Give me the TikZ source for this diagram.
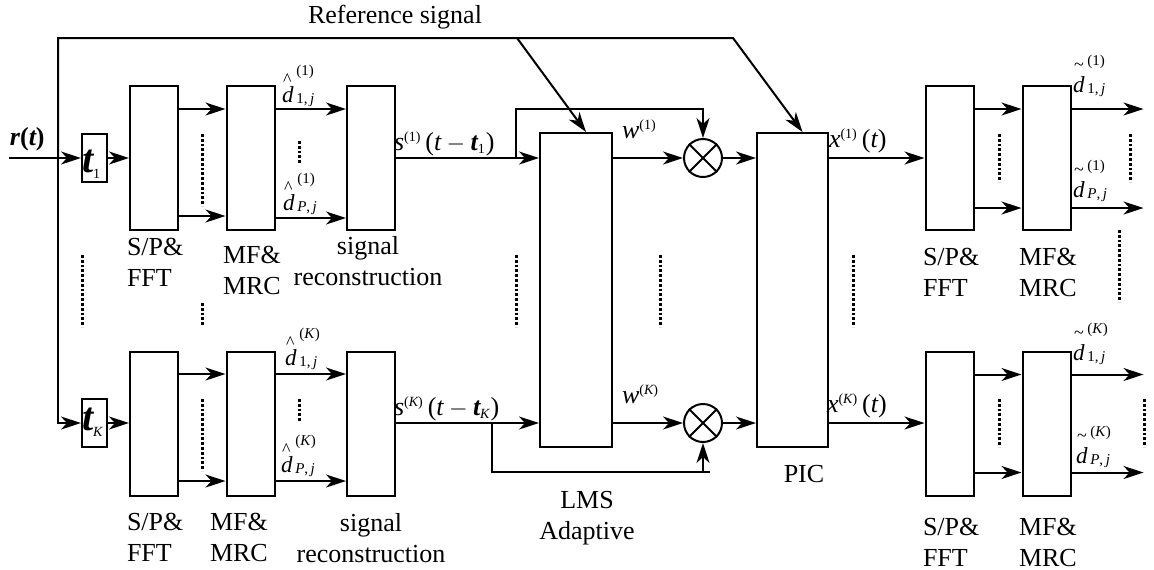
\documentclass[tikz,border=0pt]{standalone}
\usepackage{fontspec}
\setmainfont{Liberation Serif}
\usepackage{amsmath}
\usetikzlibrary{arrows.meta,calc}

\newcommand{\vi}[1]{\text{\itshape #1}}
\newcommand{\vb}[1]{\text{\bfseries\itshape #1}}
\newcommand{\sm}[1]{\text{\fontsize{7}{8}\selectfont #1}}
% symbol d with accent above, user index raised high and subcarrier index below
\newcommand{\dlab}[4]{%
  \rlap{\raisebox{#4}{\hspace{0.05em}\fontsize{9}{9}\selectfont #1}}%
  \textit{d}\hspace{0.12em}%
  \rlap{\raisebox{1.15em}{\fontsize{7.5}{8}\selectfont (#2)}}%
  \raisebox{-0.05em}{\fontsize{7.5}{8}\selectfont #3,\,\textit{j}}}

\tikzset{
  blk/.style={draw, line width=1pt, minimum width=24pt, minimum height=72pt, inner sep=0pt},
  dly/.style={blk, minimum width=12.5pt, minimum height=24pt},
  tall/.style={blk, minimum width=36pt, minimum height=157pt},
  mult/.style={draw, circle, line width=1pt, minimum size=19pt, inner sep=0pt},
  dots/.style={line width=1.5pt, dash pattern=on 1.4pt off 1pt},
  lab/.style={inner sep=0pt, align=left, anchor=north west},
  mlab/.style={inner sep=0pt, anchor=base west, font=\rmfamily\fontsize{11.5}{13}\selectfont},
}

\begin{document}
\begin{tikzpicture}[x=0.5pt,y=-0.5pt, line width=1pt,
  font=\rmfamily\fontsize{13}{15.5}\selectfont,
  >={Stealth[length=10pt,width=6.5pt,inset=3pt]}]
\useasboundingbox (0,0) rectangle (1154,569);

% user 1
\node[dly] (tA) at (94.5,158) {};
\node[blk] (spA) at (154,158) {};
\node[blk] (mfA) at (250.5,158) {};
\node[blk] (srA) at (371,158) {};
% user K
\node[dly] (tB) at (94.5,423) {};
\node[blk] (spB) at (154,424) {};
\node[blk] (mfB) at (250.5,424) {};
\node[blk] (srB) at (371,424) {};
% LMS and PIC
\node[tall] (lms) at (576,290) {};
\node[tall, minimum width=35.5pt] (pic) at (792.5,290) {};
\node[mult] (mulA) at (703,158) {};
\node[mult] (mulB) at (703,423) {};
\draw (mulA.north west) -- (mulA.south east) (mulA.north east) -- (mulA.south west);
\draw (mulB.north west) -- (mulB.south east) (mulB.north east) -- (mulB.south west);
% second stage
\node[blk] (spC) at (949.5,158) {};
\node[blk] (mfC) at (1046.5,158) {};
\node[blk] (spD) at (949.5,423.5) {};
\node[blk] (mfD) at (1046.5,423.5) {};

% input and reference signal
\coordinate (rin) at (9,158);
\coordinate (jn) at (58,158);
\coordinate (tr) at (733,38);
\coordinate (tm) at (517,38);
\draw[->] (rin) -- (tA);
\draw[->] (jn) |- (tr) -- ($(pic.north)+(10,0)$);
\draw[->] (tm) -- ($(lms.north)+(10,0)$);
\draw[->] (jn) |- (tB);

% row 1
\draw[->] (tA) -- (spA);
\draw[->] ($(spA.north east)+(0,24)$) -- ($(mfA.north west)+(0,24)$);
\draw[->] ($(spA.south east)+(0,-15)$) -- ($(mfA.south west)+(0,-15)$);
\draw[->] ($(mfA.north east)+(0,24)$) -- ($(srA.north west)+(0,24)$);
\draw[->] ($(mfA.south east)+(0,-13)$) -- ($(srA.south west)+(0,-13)$);
\draw[->] (srA.east) -- (srA.east -| lms.west);
\coordinate (brA) at (516,158);
\draw[->] (brA) |- ($(mulA.north)+(0,-29)$) -- (mulA.north);
\draw[->] (lms.east |- mulA) -- (mulA);
\draw[->] (mulA) -- (pic.west |- mulA);
\draw[->] (pic.east |- mulA) -- (spC);
\draw[->] ($(spC.north east)+(0,24)$) -- ($(mfC.north west)+(0,24)$);
\draw[->] ($(spC.south east)+(0,-23)$) -- ($(mfC.south west)+(0,-23)$);
\draw[->] ($(mfC.north east)+(0,24)$) -- ++(72,0);
\draw[->] ($(mfC.south east)+(0,-23)$) -- ++(72,0);

% row K
\draw[->] (tB) -- (tB -| spB.west);
\draw[->] ($(spB.north east)+(0,23)$) -- ($(mfB.north west)+(0,23)$);
\draw[->] ($(spB.south east)+(0,-16)$) -- ($(mfB.south west)+(0,-16)$);
\draw[->] ($(mfB.north east)+(0,23)$) -- ($(srB.north west)+(0,23)$);
\draw[->] ($(mfB.south east)+(0,-16)$) -- ($(srB.south west)+(0,-16)$);
\draw[->] (srB.east |- mulB) -- (lms.west |- mulB);
\coordinate (brB) at (492,423);
\draw (brB) |- ($(mulB.south)+(7,29)$);
\draw[->] ($(mulB.south)+(0,29)$) -- (mulB.south);
\draw[->] (lms.east |- mulB) -- (mulB);
\draw[->] (mulB) -- (pic.west |- mulB);
\draw[->] (pic.east |- mulB) -- (spD.west |- mulB);
\draw[->] ($(spD.north east)+(0,24)$) -- ($(mfD.north west)+(0,24)$);
\draw[->] ($(spD.south east)+(0,-24)$) -- ($(mfD.south west)+(0,-24)$);
\draw[->] ($(mfD.north east)+(0,24)$) -- ++(72,0);
\draw[->] ($(mfD.south east)+(0,-24)$) -- ++(72,0);

% dotted lines
\draw[dots] (82,255) -- (82,327);
\draw[dots] (202,134) -- (202,206);
\draw[dots] (299,141) -- (299,163);
\draw[dots] (202,303) -- (202,325);
\draw[dots] (202,399) -- (202,471);
\draw[dots] (299,399) -- (299,422);
\draw[dots] (516,255) -- (516,327);
\draw[dots] (660,255) -- (660,327);
\draw[dots] (853,255) -- (853,327);
\draw[dots] (999,134) -- (999,182);
\draw[dots] (1130,134) -- (1130,182);
\draw[dots] (1119,230) -- (1119,302);
\draw[dots] (999,399) -- (999,447);
\draw[dots] (1144,399) -- (1144,447);

% texts
\node[inner sep=0pt, anchor=base west] (refsig) at (307,23) {Reference signal};
\node[inner sep=0pt, anchor=base west] (rlab) at (9,145) {\bfseries\itshape r\upshape(\itshape t\upshape)};
\node[inner sep=0pt, anchor=base west, font=\fontsize{20}{20}\selectfont] (tAlab) at (81,172) {$\vb{t}_{\sm{1}}$};
\node[inner sep=0pt, anchor=base west, font=\fontsize{20}{20}\selectfont] (tBlab) at (81,430) {$\vb{t}_{\sm{\itshape K}}$};
\node[mlab] (dA1) at (281,102) {\dlab{\^{}}{1}{1}{0.72em}};
\node[mlab] (dAP) at (282,210) {\dlab{\^{}}{1}{\textit{P}}{0.72em}};
\node[mlab] (dB1) at (284,365) {\dlab{\^{}}{\textit{K}}{1}{0.72em}};
\node[mlab] (dBP) at (280,472) {\dlab{\^{}}{\textit{K}}{\textit{P}}{0.72em}};
\node[mlab] (eA1) at (1072,92) {\dlab{\~{}}{1}{1}{0.95em}};
\node[mlab] (eAP) at (1072,197) {\dlab{\~{}}{1}{\textit{P}}{0.95em}};
\node[mlab] (eB1) at (1072,360) {\dlab{\~{}}{\textit{K}}{1}{0.95em}};
\node[mlab] (eBP) at (1075,463) {\dlab{\~{}}{\textit{K}}{\textit{P}}{0.95em}};
\node[inner sep=0pt, anchor=base west] (sA) at (393,150) {$\vi{s}^{\sm{(1)}}\,\text{(}\vi{t}-\vb{t}_{\sm{1}}\text{)}$};
\node[inner sep=0pt, anchor=base west] (sB) at (393,415) {$\vi{s}^{\sm{(\itshape K\upshape)}}\,\text{(}\vi{t}-\vb{t}_{\sm{\itshape K}}\text{)}$};
\node[inner sep=0pt, anchor=base west] (wA) at (621,138) {$\vi{w}^{\sm{(1)}}$};
\node[inner sep=0pt, anchor=base west] (wB) at (621,403) {$\vi{w}^{\sm{(\itshape K\upshape)}}$};
\node[inner sep=0pt, anchor=base west] (xA) at (828,147) {$\vi{x}^{\sm{(1)}}\,\text{(}\vi{t}\text{)}$};
\node[inner sep=0pt, anchor=base west] (xB) at (826,412) {$\vi{x}^{\sm{(\itshape K\upshape)}}\,\text{(}\vi{t}\text{)}$};

\node[lab] (spAt) at (126,237) {S/P\&\\FFT};
\node[lab] (mfAt) at (222,245) {MF\&\\MRC};
\node[lab, anchor=north, align=center] (srAt) at (368,235) {signal\\reconstruction};
\node[lab] (spBt) at (126,512) {S/P\&\\FFT};
\node[lab] (mfBt) at (209,512) {MF\&\\MRC};
\node[lab, anchor=north, align=center] (srBt) at (371,512) {signal\\reconstruction};
\node[lab, anchor=north, align=center] (lmst) at (587,490) {LMS\\Adaptive};
\node[lab, anchor=north] (pict) at (804,464) {PIC};
\node[lab] (spCt) at (922,247) {S/P\&\\FFT};
\node[lab] (mfCt) at (1018,247) {MF\&\\MRC};
\node[lab] (spDt) at (922,517) {S/P\&\\FFT};
\node[lab] (mfDt) at (1018,517) {MF\&\\MRC};
\end{tikzpicture}
\end{document}
